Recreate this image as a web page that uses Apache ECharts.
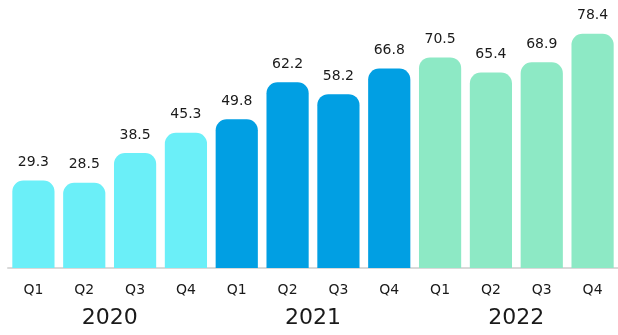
<!DOCTYPE html>
<html><head><meta charset="utf-8">
<script src="https://cdn.jsdelivr.net/npm/echarts@6/dist/echarts.min.js"></script>
<style>html,body{margin:0;padding:0;background:#fff}#c{width:618px;height:335px}</style>
</head><body><div id="c"></div>
<script>
const quarters = ['Q1','Q2','Q3','Q4','Q1','Q2','Q3','Q4','Q1','Q2','Q3','Q4'];
const years = ['2020','2021','2022'];
const values = [29.3, 28.5, 38.5, 45.3, 49.8, 62.2, 58.2, 66.8, 70.5, 65.4, 68.9, 78.4];
const yearColors = ['#6BEFF8', '#019FE3', '#8DE9C5'];

const font = 'DejaVu Sans';
const chart = echarts.init(document.getElementById('c'));
chart.setOption({
  animation: false,
  grid: { left: 8, right: 0, top: 29, bottom: 67 },
  xAxis: [
    { type: 'category', data: quarters,
      axisLine: { lineStyle: { color: '#d9d9d9', width: 2 } },
      axisTick: { show: false },
      axisLabel: { color: '#1a1a1a', fontSize: 14, fontFamily: font, margin: 15 } },
    { type: 'category', data: years, position: 'bottom', offset: 30,
      axisLine: { show: false }, axisTick: { show: false },
      axisLabel: { color: '#1a1a1a', fontSize: 22, fontFamily: font, margin: 9 } }
  ],
  yAxis: { type: 'value', min: 0, max: 80, show: false, splitLine: { show: false } },
  series: [{
    type: 'bar', xAxisIndex: 0,
    data: values.map((v, i) => ({ value: v, itemStyle: { color: yearColors[Math.floor(i / 4)] } })),
    barWidth: '83%',
    itemStyle: { borderRadius: [11, 11, 0, 0] },
    label: { show: true, position: 'top', distance: 11, color: '#1a1a1a', fontSize: 14, fontFamily: font,
      formatter: p => p.value.toFixed(1) }
  }]
});
</script></body></html>
